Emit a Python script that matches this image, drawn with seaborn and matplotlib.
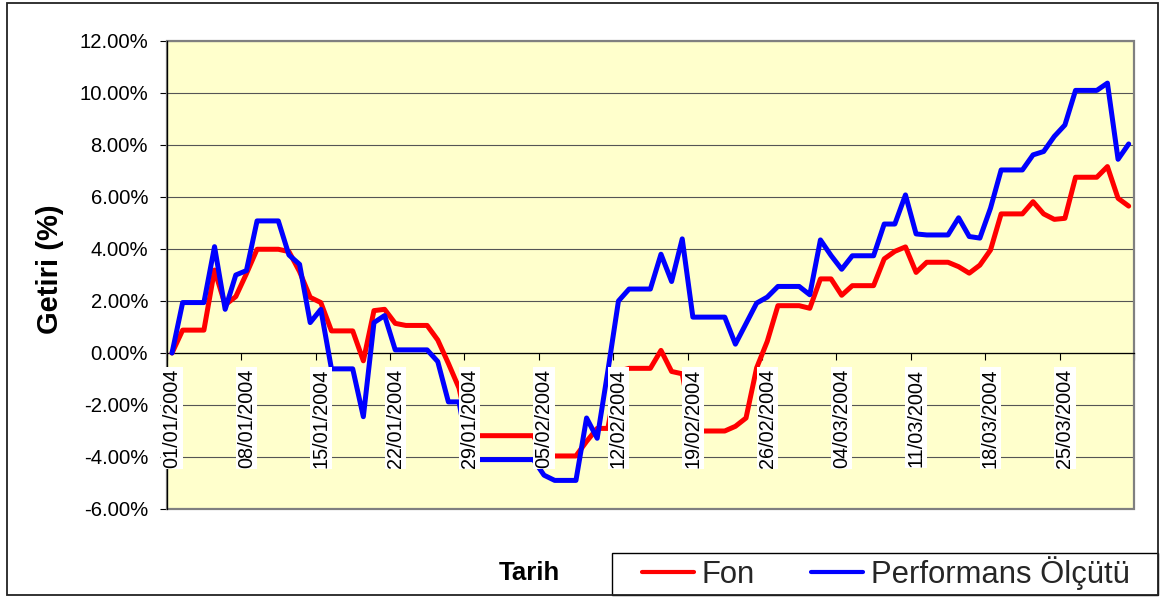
import numpy as np
import pandas as pd
import matplotlib
matplotlib.use("Agg")
import matplotlib.pyplot as plt
import seaborn as sns
from matplotlib.patches import Rectangle
from matplotlib.lines import Line2D

# ---------------- data ----------------
dates = pd.date_range("2004-01-01", "2004-03-31", freq="D")

fon = [0.0, 0.88, 0.88, 0.88, 3.19, 1.85, 2.17, 3.05, 3.99, 3.99,
       3.99, 3.90, 3.13, 2.14, 1.94, 0.85, 0.85, 0.85, -0.30, 1.63,
       1.68, 1.14, 1.06, 1.06, 1.06, 0.50, -0.40, -1.35, -3.18, -3.18,
       -3.18, -3.18, -3.18, -3.18, -3.18, -3.96, -3.96, -3.96, -3.96, -3.40,
       -2.90, -2.90, -0.70, -0.59, -0.59, -0.59, 0.10, -0.71, -0.80, -3.00,
       -3.00, -3.00, -3.00, -2.82, -2.50, -0.57, 0.45, 1.82, 1.82, 1.82,
       1.72, 2.85, 2.85, 2.22, 2.59, 2.59, 2.59, 3.62, 3.91, 4.08,
       3.10, 3.49, 3.49, 3.49, 3.32, 3.07, 3.38, 3.96, 5.35, 5.35,
       5.35, 5.82, 5.35, 5.14, 5.18, 6.76, 6.76, 6.76, 7.17, 5.95,
       5.65]

performans = [0.0, 1.94, 1.94, 1.94, 4.09, 1.68, 3.00, 3.17, 5.08, 5.08,
              5.08, 3.77, 3.41, 1.17, 1.68, -0.61, -0.61, -0.61, -2.45, 1.17,
              1.44, 0.12, 0.12, 0.12, 0.12, -0.33, -1.88, -1.88, -4.10, -4.10,
              -4.10, -4.10, -4.10, -4.10, -4.10, -4.70, -4.90, -4.90, -4.90, -2.50,
              -3.28, -0.70, 2.00, 2.46, 2.46, 2.46, 3.80, 2.75, 4.39, 1.38,
              1.38, 1.38, 1.38, 0.34, 1.13, 1.92, 2.15, 2.56, 2.56, 2.56,
              2.24, 4.35, 3.75, 3.22, 3.74, 3.74, 3.74, 4.96, 4.96, 6.08,
              4.58, 4.54, 4.54, 4.54, 5.20, 4.48, 4.42, 5.57, 7.04, 7.04,
              7.04, 7.62, 7.75, 8.33, 8.77, 10.10, 10.10, 10.10, 10.38, 7.45,
              8.04]

series_names = ["Fon", "Performans Ölçütü"]
series_colors = ["#FF0000", "#0000FF"]
y_ticks = [-6, -4, -2, 0, 2, 4, 6, 8, 10, 12]
x_tick_labels = ["01/01/2004", "08/01/2004", "15/01/2004", "22/01/2004",
                 "29/01/2004", "05/02/2004", "12/02/2004", "19/02/2004",
                 "26/02/2004", "04/03/2004", "11/03/2004", "18/03/2004",
                 "25/03/2004"]
x_title = "Tarih"
y_title = "Getiri (%)"

# ---------------- style ----------------
sns.set_theme(style="white")
plt.rcParams["font.family"] = ["Liberation Sans", "DejaVu Sans"]

day = np.asarray((dates - dates[0]).days)
df = pd.DataFrame({
    "day": np.concatenate([day, day]),
    "value": fon + performans,
    "series": [series_names[0]] * len(fon) + [series_names[1]] * len(performans),
})

W, H = 1161, 597
fig = plt.figure(figsize=(W / 100, H / 100), dpi=100)
fig.patch.set_facecolor("white")
ax = fig.add_axes([166.7 / W, 88 / H, (1134 - 166.7) / W, 468 / H])
ax.set_facecolor("#FFFFCC")

sns.lineplot(data=df, x="day", y="value", hue="series",
             palette=dict(zip(series_names, series_colors)),
             hue_order=series_names, estimator=None, errorbar=None,
             linewidth=3.6, legend=False, ax=ax, zorder=3)

ax.set_xlim(-0.5, 90.5)
ax.set_ylim(-6, 12)

# y axis
ax.set_yticks(y_ticks)
ax.set_yticklabels([f"{v:.2f}%" for v in y_ticks])
ax.tick_params(axis="y", left=True, direction="out", length=5, width=0.8,
               color="black", labelsize=14.6, pad=8.4, labelcolor="black")
ax.grid(axis="y", color="#555555", linewidth=0.8, zorder=1)
ax.grid(axis="x", visible=False)
ax.set_axisbelow(True)

# x axis crossing at 0
ax.spines["bottom"].set_position(("data", 0))
ax.spines["bottom"].set_color("black")
ax.spines["bottom"].set_linewidth(0.9)
ax.spines["left"].set_color("black")
ax.spines["left"].set_linewidth(0.9)
ax.spines["top"].set_visible(False)
ax.spines["right"].set_visible(False)
ax.set_xticks(np.arange(-0.5, 91, 7))
ax.tick_params(axis="x", bottom=True, direction="out", length=5, width=0.8,
               color="black", labelbottom=False)

# plot area frame
ax.add_patch(Rectangle((0, 0), 1, 1, transform=ax.transAxes, fill=False,
                       edgecolor="#808080", linewidth=1.6, clip_on=False,
                       zorder=1.2))

# date labels with white boxes over the lines
for k, lab in enumerate(x_tick_labels):
    ax.text(7 * k, -0.60, lab, rotation=90, ha="center", va="top",
            fontsize=14.3, color="black", zorder=5,
            bbox=dict(boxstyle="square,pad=0.06", facecolor="white",
                      edgecolor="none"))

ax.set_xlabel("")
ax.set_ylabel(y_title, fontsize=21, fontweight="bold", color="black")
ax.yaxis.set_label_coords((64 - 166.7) / (1134 - 166.7), (509 - 269) / 468)

# axis title for dates
fig.text(529.5 / W, 1 - 572.5 / H, x_title, ha="center", va="center",
         fontsize=18.6, fontweight="bold", color="black")

# legend
handles = [Line2D([], [], color=c, linewidth=3.0) for c in series_colors]
fig.legend(handles, series_names, loc="center left",
           bbox_to_anchor=(642 / W, 1 - 573.3 / H), ncol=2, frameon=False,
           fontsize=22.3, handlelength=1.68, handletextpad=0.23,
           columnspacing=1.84, borderpad=0, borderaxespad=0)

# legend box and outer chart border
fig.add_artist(Rectangle((612 / W, 1 - 595 / H), (1158 - 612) / W,
                         (595 - 553.3) / H, transform=fig.transFigure,
                         fill=False, edgecolor="black", linewidth=1.0))
fig.add_artist(Rectangle((7 / W, 1 - 595 / H), (1158 - 7) / W,
                         (595 - 2.7) / H, transform=fig.transFigure,
                         fill=False, edgecolor="#222222", linewidth=1.3))

fig.savefig("out.png", dpi=100, facecolor="white")
